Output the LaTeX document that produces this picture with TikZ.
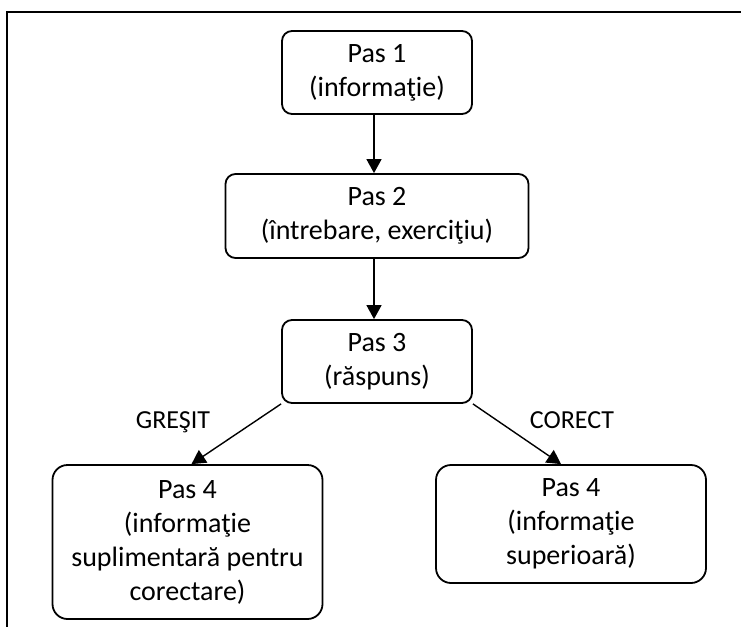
\documentclass[tikz,border=0pt]{standalone}
\usepackage{fontspec}
\setmainfont{Carlito}
\usepackage{tikz}
\usetikzlibrary{arrows.meta,positioning}

\begin{document}
\begin{tikzpicture}[
  x=1pt,
  y=-1pt,
  font=\fontsize{28}{34}\selectfont,
  frame/.style={draw=black,line width=2pt},
  stepbox/.style={
    rectangle,
    draw=black,
    line width=1.8pt,
    rounded corners=10pt,
    align=center,
    inner sep=0pt
  },
  smallbox/.style={stepbox,minimum width=190pt,minimum height=83pt},
  widebox/.style={stepbox,minimum width=303pt,minimum height=84pt},
  endbox/.style={stepbox,rounded corners=15pt,minimum width=270pt},
  answer/.style={font=\fontsize{26}{31}\selectfont,anchor=base},
  arrow/.style={-{Triangle[length=14pt,width=15pt]},draw=black,line width=1.4pt}
]
\useasboundingbox (0,0) rectangle (741,626);

% Outer frame, cut by the page on the right and at the bottom.
\draw[frame] (745,12) -| (7,630);

% Steps.
\node[smallbox] (pas1) at (377,72.5) {Pas 1\\(informaţie)};
\node[widebox] (pas2) at (377,216) {Pas 2\\(întrebare, exerciţiu)};
\node[smallbox] (pas3) at (377,361.5) {Pas 3\\(răspuns)};
\node[endbox,minimum height=154pt] (gresit) at (187.5,542)
  {Pas 4\\(informaţie\\suplimentară pentru\\corectare)};
\node[endbox,minimum height=118pt] (corect) at (571,524)
  {Pas 4\\(informaţie\\superioară)};

% Branch labels.
\node[answer] (lblgresit) at (173,428) {GREŞIT};
\node[answer] (lblcorect) at (572,428) {CORECT};

% Flow.
\draw[arrow] ([xshift=-3pt]pas1.south) -- ([xshift=-3pt]pas1.south |- pas2.north);
\draw[arrow] ([xshift=-3pt]pas2.south) -- ([xshift=-3pt]pas2.south |- pas3.north);
\draw[arrow] (pas3.south west) -- ([xshift=4pt]gresit.north);
\draw[arrow] (pas3.south east) -- ([xshift=-10pt]corect.north);

\end{tikzpicture}
\end{document}
